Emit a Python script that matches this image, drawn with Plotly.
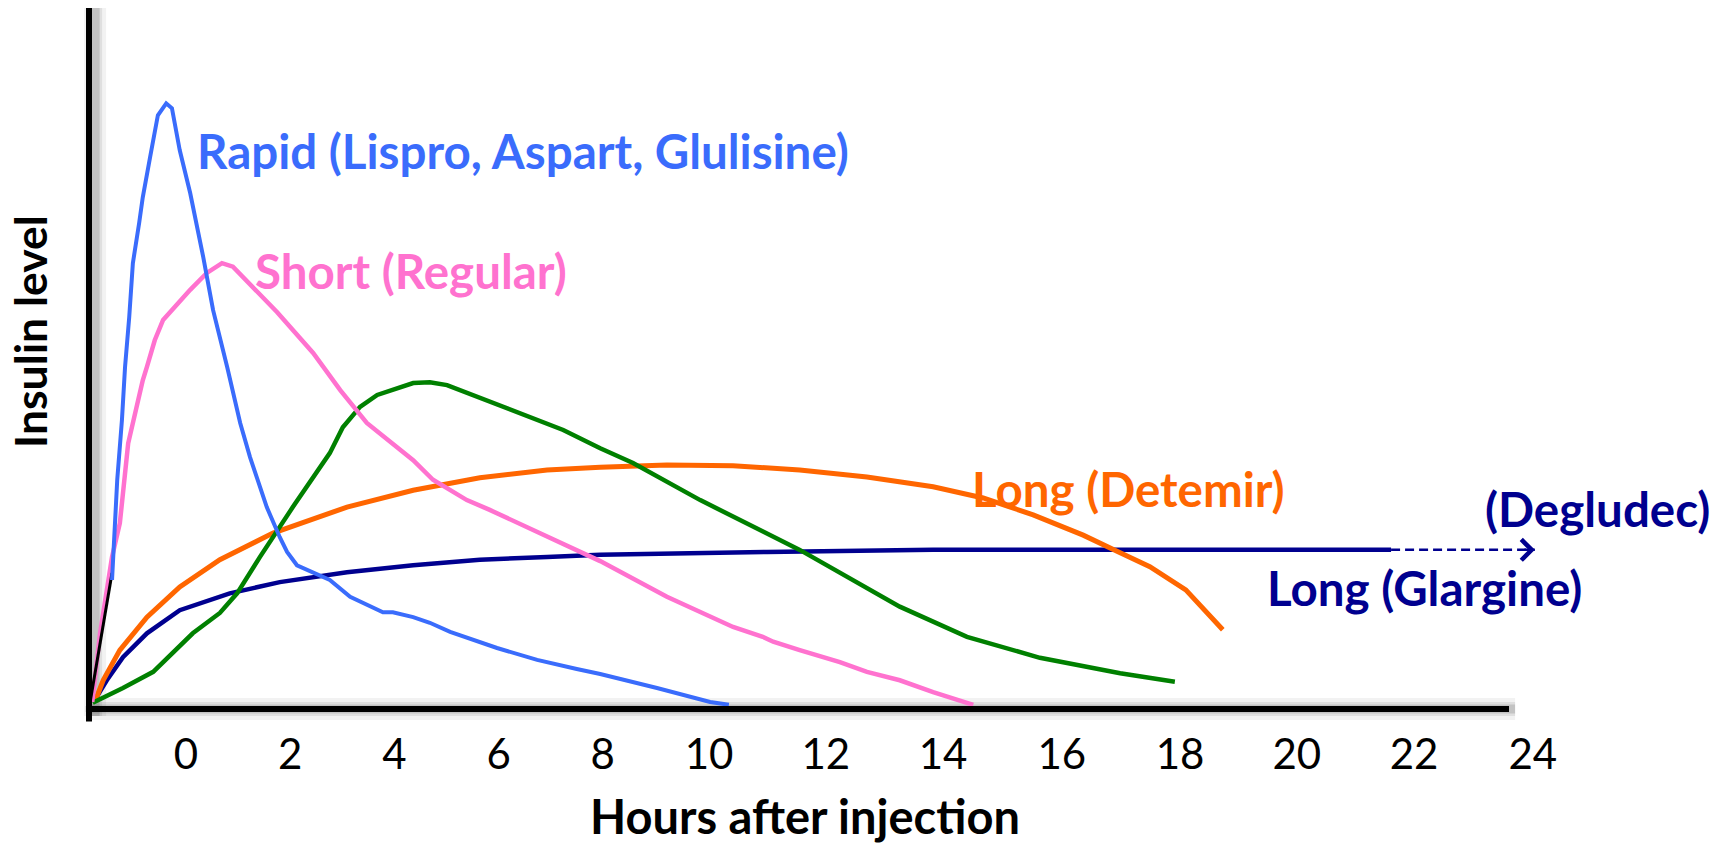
import plotly.graph_objects as go

# ---------------- data (hours after injection, insulin level 0-100) ----------------
rapid_x = [-1.42, -1.32, -1.23, -1.17, -1.09, -1.02, -0.90, -0.83, -0.69, -0.54, -0.38, -0.27,
           -0.12, 0.08, 0.33, 0.52, 0.79, 1.04, 1.23, 1.55, 1.80, 1.94, 2.13, 2.44, 2.76, 3.15,
           3.59, 3.78, 3.97, 4.36, 4.68, 5.07, 5.97, 6.74, 7.50, 7.95, 9.04, 10.06, 10.42]
rapid_y = [18.4, 32.7, 41.2, 48.8, 55.9, 63.6, 69.3, 73.0, 78.7, 84.7, 86.4, 85.7,
           79.7, 73.6, 64.5, 56.9, 48.8, 40.8, 35.9, 28.8, 24.5, 22.4, 20.5, 19.4, 18.4, 16.0,
           14.4, 13.8, 13.8, 13.1, 12.3, 11.0, 8.7, 7.0, 5.7, 5.0, 3.0, 1.0, 0.6]

start_x = [-1.84, -1.42]
start_y = [1.0, 19.4]

short_x = [-1.80, -1.65, -1.42, -1.27, -1.11, -0.98, -0.83, -0.75, -0.60, -0.44, 0.08, 0.40,
           0.69, 0.90, 1.29, 1.75, 2.44, 2.96, 3.47, 4.36, 4.74, 5.39, 5.83, 6.66, 7.95, 9.23,
           10.50, 11.07, 11.27, 11.78, 12.55, 13.07, 13.70, 14.34, 15.11]
short_y = [1.0, 10.8, 21.7, 26.5, 37.9, 42.2, 46.9, 48.8, 52.6, 55.5, 59.8, 62.2,
           63.6, 63.1, 60.2, 56.6, 50.8, 45.5, 40.8, 35.5, 32.7, 29.8, 28.4, 25.5, 21.1, 16.0,
           11.7, 10.3, 9.6, 8.4, 6.7, 5.3, 4.1, 2.4, 0.6]

inter_x = [-1.79, -1.21, -0.63, 0.13, 0.65, 0.98, 1.42, 2.05, 2.76, 3.01, 3.34, 3.67, 4.36,
           4.68, 5.01, 5.97, 7.24, 7.95, 8.58, 9.87, 11.78, 13.70, 14.99, 16.39, 17.93, 18.98]
inter_y = [0.9, 3.0, 5.3, 10.8, 13.7, 16.5, 21.7, 28.8, 36.5, 40.2, 43.1, 44.8, 46.5,
           46.6, 46.2, 43.4, 39.8, 37.2, 35.1, 29.8, 22.7, 14.6, 10.3, 7.3, 5.1, 3.9]

detemir_x = [-1.75, -1.59, -1.27, -0.75, -0.12, 0.65, 1.67, 3.09, 4.36, 5.64, 6.93, 7.95,
             9.23, 10.50, 11.78, 13.07, 14.34, 15.30, 16.26, 17.22, 17.93, 18.50, 19.19, 19.90]
detemir_y = [1.0, 4.1, 8.4, 13.1, 17.4, 21.3, 25.1, 28.8, 31.2, 33.0, 34.1, 34.5,
             34.8, 34.7, 34.1, 33.1, 31.7, 30.1, 27.7, 24.8, 22.3, 20.3, 17.0, 11.3]

glargine_x = [-1.75, -1.52, -1.21, -0.75, -0.12, 0.84, 1.80, 3.09, 4.36, 5.64, 6.93, 7.95,
              11.15, 14.34, 17.93, 23.13]
glargine_y = [1.3, 4.1, 7.4, 10.8, 14.1, 16.5, 18.1, 19.5, 20.5, 21.3, 21.7, 22.0,
              22.4, 22.7, 22.7, 22.7]

degludec_x = [23.13, 25.89]
degludec_y = [22.7, 22.7]

tick_labels = ["0", "2", "4", "6", "8", "10", "12", "14", "16", "18", "20", "22", "24"]
tick_positions = [0, 2, 4, 6, 8, 10.04, 12.28, 14.53, 16.81, 19.08, 21.32, 23.57, 25.85]

BLUE = "#3A6CFC"
PINK = "#FF72CF"
GREEN = "#008000"
ORANGE = "#FF6600"
NAVY = "#00008F"
FONT = "Lato"
LABEL_SIZE = 47.5

fig = go.Figure()

def add_line(x, y, color, width, dash=None):
    fig.add_trace(go.Scatter(x=x, y=y, mode="lines", showlegend=False, hoverinfo="skip",
                             line=dict(color=color, width=width, dash=dash)))

add_line(glargine_x, glargine_y, NAVY, 4.5)
add_line(degludec_x, degludec_y, NAVY, 2.5, dash="9px,5px")
add_line(detemir_x, detemir_y, ORANGE, 5)
add_line(inter_x, inter_y, GREEN, 4.5)
add_line(short_x, short_y, PINK, 4.5)
add_line(start_x, start_y, "black", 3)
add_line(rapid_x, rapid_y, BLUE, 4)

# arrow head of the Degludec extension
fig.add_annotation(x=degludec_x[-1], y=degludec_y[-1], xref="x", yref="y", text="",
                   showarrow=True, arrowhead=4, arrowsize=1.6, arrowwidth=2.5,
                   arrowcolor=NAVY, ax=-12, ay=0)

def label(text, x, y, color):
    fig.add_annotation(x=x, y=y, xref="x", yref="y", text=f"<b>{text}</b>", showarrow=False,
                       xanchor="left", yanchor="middle",
                       font=dict(family=FONT, size=LABEL_SIZE, color=color))

label("Rapid (Lispro, Aspart, Glulisine)", 0.17, 79.7, BLUE)
label("Short (Regular)", 1.29, 62.5, PINK)
label("Long (Detemir)", 15.05, 31.5, ORANGE)
label("(Degludec)", 24.89, 28.6, NAVY)
label("Long (Glargine)", 20.71, 17.4, NAVY)

# axis titles
fig.add_annotation(x=0.4677, y=-0.152, xref="paper", yref="paper", text="<b>Hours after injection</b>",
                   showarrow=False, xanchor="center", yanchor="middle",
                   font=dict(family=FONT, size=47, color="black"))
fig.add_annotation(x=-0.0385, y=0.538, xref="paper", yref="paper", text="<b>Insulin level</b>",
                   showarrow=False, xanchor="center", yanchor="middle", textangle=-90,
                   font=dict(family=FONT, size=44.5, color="black"))

# axis lines with soft shadows
x_end = 0.9275
for w, a in [(22, 0.05), (14, 0.08), (9, 0.12)]:
    fig.add_shape(type="line", xref="paper", yref="paper", x0=0.004, x1=0.004, y0=-0.01, y1=1.0,
                  line=dict(color=f"rgba(0,0,0,{a})", width=w), layer="below")
    fig.add_shape(type="line", xref="paper", yref="paper", x0=0, x1=x_end + 0.004, y0=0.0, y1=0.0,
                  line=dict(color=f"rgba(0,0,0,{a})", width=w), layer="below")
fig.add_shape(type="line", xref="paper", yref="paper", x0=0, x1=0, y0=-0.018, y1=1.0,
              line=dict(color="black", width=6), layer="above")
fig.add_shape(type="line", xref="paper", yref="paper", x0=-0.002, x1=x_end, y0=0, y1=0,
              line=dict(color="black", width=6), layer="above")

fig.update_layout(
    width=1711, height=844, autosize=False,
    margin=dict(l=89, r=91, t=8, b=135),
    paper_bgcolor="white", plot_bgcolor="white",
    xaxis=dict(range=[-1.862, 27.524], showgrid=False, zeroline=False, showline=False,
               tickmode="array", tickvals=tick_positions, ticktext=tick_labels, ticks="",
               ticklabelstandoff=17,
               tickfont=dict(family=FONT, size=42, color="black")),
    yaxis=dict(range=[0, 100], showgrid=False, zeroline=False, showline=False,
               showticklabels=False, ticks=""),
)

fig.write_html("out.html", config={"displayModeBar": False},
               post_script="document.body.style.margin='0px';document.body.style.overflow='hidden';")
